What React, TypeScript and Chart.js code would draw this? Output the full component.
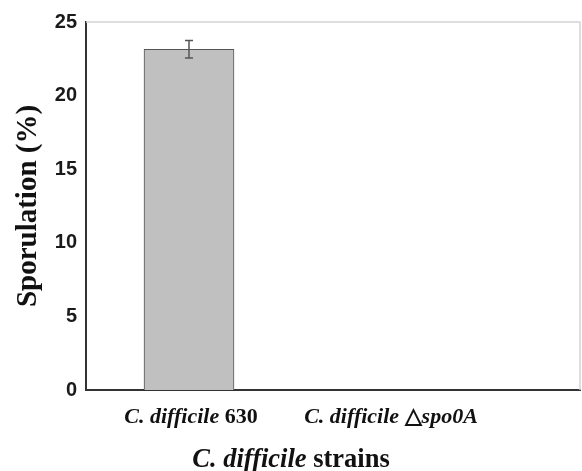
import React, { useEffect, useRef } from "react";
import { Chart, registerables } from "chart.js";
Chart.register(...registerables);

type Part = { text: string; italic: boolean };

const categories: string[] = ["C. difficile 630", "C. difficile△spo0A"];
const categoryParts: Part[][] = [
  [
    { text: "C. difficile ", italic: true },
    { text: "630", italic: false },
  ],
  [
    { text: "C. difficile ", italic: true },
    { text: "△", italic: false },
    { text: "spo0A", italic: true },
  ],
];
const positions: number[] = [0, 1];
const sporulation: number[] = [23.15, 0];
const errors: number[] = [0.6, 0];
const yTicks: number[] = [0, 5, 10, 15, 20, 25];
const xTitleParts: Part[] = [
  { text: "C. difficile", italic: true },
  { text: " strains", italic: false },
];
const yTitle = "Sporulation (%)";

const SERIF = '"Liberation Serif", "Times New Roman", serif';

function drawParts(ctx: CanvasRenderingContext2D, parts: Part[], cx: number, y: number, size: number) {
  const fontFor = (p: Part) => `${p.italic ? "italic " : ""}bold ${size}px ${SERIF}`;
  let total = 0;
  parts.forEach((p) => {
    ctx.font = fontFor(p);
    total += ctx.measureText(p.text).width;
  });
  let x = cx - total / 2;
  ctx.textAlign = "left";
  ctx.textBaseline = "alphabetic";
  ctx.fillStyle = "#111";
  parts.forEach((p) => {
    ctx.font = fontFor(p);
    ctx.fillText(p.text, x, y);
    x += ctx.measureText(p.text).width;
  });
}

const extrasPlugin = {
  id: "extras",
  afterDatasetsDraw(chart: any) {
    const ctx: CanvasRenderingContext2D = chart.ctx;
    const xs = chart.scales.x;
    const ys = chart.scales.y;
    ctx.save();
    ctx.strokeStyle = "#555";
    ctx.lineWidth = 1.5;
    positions.forEach((p, i) => {
      if (!errors[i]) return;
      const x = xs.getPixelForValue(p);
      const yTop = ys.getPixelForValue(sporulation[i] + errors[i]);
      const yBot = ys.getPixelForValue(sporulation[i] - errors[i]);
      ctx.beginPath();
      ctx.moveTo(x, yTop);
      ctx.lineTo(x, yBot);
      ctx.moveTo(x - 4, yTop);
      ctx.lineTo(x + 4, yTop);
      ctx.moveTo(x - 4, yBot);
      ctx.lineTo(x + 4, yBot);
      ctx.stroke();
    });
    ctx.restore();
  },
  afterDraw(chart: any) {
    const ctx: CanvasRenderingContext2D = chart.ctx;
    const { left, right, top, bottom } = chart.chartArea;
    const xs = chart.scales.x;
    ctx.save();
    ctx.strokeStyle = "#d4d4d4";
    ctx.lineWidth = 1.5;
    ctx.beginPath();
    ctx.moveTo(left, top);
    ctx.lineTo(right, top);
    ctx.lineTo(right, bottom);
    ctx.stroke();
    categoryParts.forEach((parts, i) => {
      drawParts(ctx, parts, xs.getPixelForValue(positions[i]) + 2, bottom + 33, 22);
    });
    drawParts(ctx, xTitleParts, chart.width / 2, bottom + 77, 26.5);
    ctx.restore();
  },
};

export default function App() {
  const ref = useRef<HTMLCanvasElement | null>(null);
  useEffect(() => {
    document.body.style.margin = "0";
    const canvas = ref.current!;
    const chart = new Chart(canvas, {
      type: "bar",
      data: {
        labels: categories,
        datasets: [
          {
            data: positions.map((p, i) => ({ x: p, y: sporulation[i] })),
            backgroundColor: "#c0c0c0",
            borderColor: "#555",
            borderWidth: 1,
            barThickness: 90,
          },
        ],
      },
      options: {
        responsive: false,
        animation: false,
        layout: { padding: { top: 22, right: 2, left: 0, bottom: 0 } },
        plugins: { legend: { display: false }, tooltip: { enabled: false } },
        scales: {
          x: {
            type: "linear",
            offset: false,
            min: -0.515,
            max: 1.955,
            grid: { display: false, offset: false },
            border: { display: true, color: "#333", width: 2 },
            ticks: { display: false },
            afterFit: (s: any) => {
              s.height = 81;
            },
          },
          y: {
            min: 0,
            max: 25,
            afterBuildTicks: (s: any) => {
              s.ticks = yTicks.map((v) => ({ value: v }));
            },
            grid: { display: false, drawTicks: false },
            border: { display: true, color: "#333", width: 2 },
            ticks: {
              padding: 9,
              color: "#1a1a1a",
              font: { family: '"Liberation Sans", Arial, sans-serif', size: 20, weight: "bold" },
            },
            title: {
              display: true,
              text: yTitle,
              color: "#111",
              padding: { top: 11, bottom: 0 },
              font: { family: SERIF, size: 29, weight: "bold" },
            },
            afterFit: (s: any) => {
              s.width = 86;
            },
          },
        },
      } as any,
      plugins: [extrasPlugin],
    });
    return () => chart.destroy();
  }, []);
  return <canvas ref={ref} width={582} height={471} style={{ display: "block" }} />;
}
